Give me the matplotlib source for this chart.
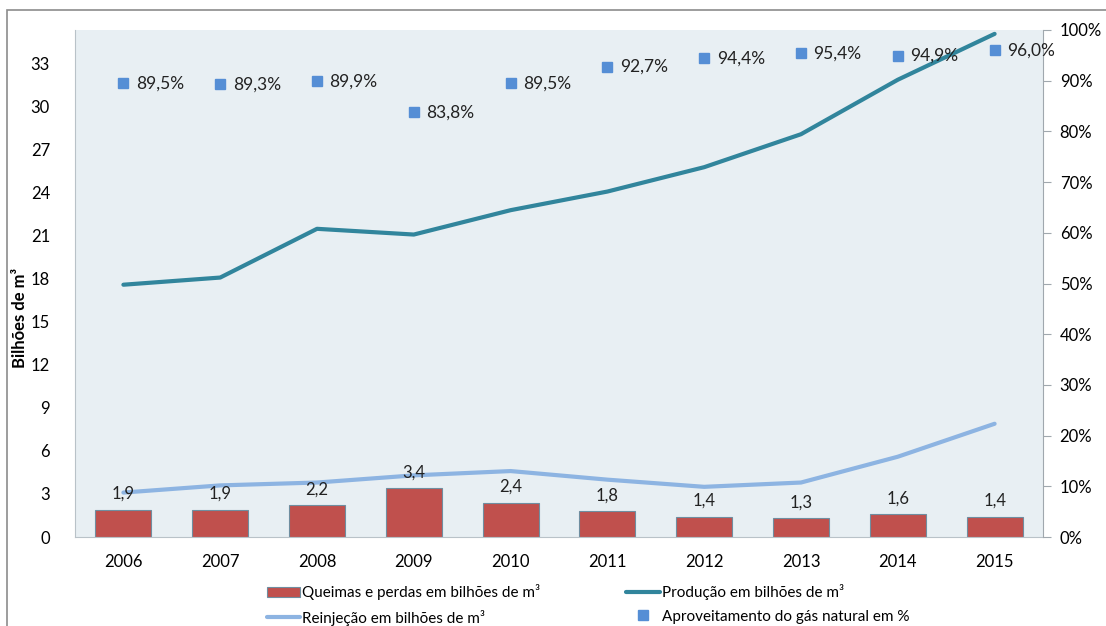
import matplotlib.pyplot as plt
from matplotlib.patches import Rectangle
from matplotlib.ticker import FuncFormatter

plt.rcParams["font.family"] = ["Lato", "DejaVu Sans"]

years = ["2006", "2007", "2008", "2009", "2010", "2011", "2012", "2013", "2014", "2015"]
queimas = [1.9, 1.9, 2.2, 3.4, 2.4, 1.8, 1.4, 1.3, 1.6, 1.4]
producao = [17.6, 18.1, 21.5, 21.1, 22.8, 24.1, 25.8, 28.1, 31.9, 35.1]
reinjecao = [3.1, 3.6, 3.8, 4.3, 4.6, 4.0, 3.5, 3.8, 5.6, 7.9]
aproveitamento = [89.5, 89.3, 89.9, 83.8, 89.5, 92.7, 94.4, 95.4, 94.9, 96.0]

fig = plt.figure(figsize=(11.06, 6.26), dpi=100)
ax = fig.add_axes([75 / 1106, 89 / 626, 968 / 1106, 507 / 626])
ax2 = ax.twinx()

# moldura externa do grafico
fig.patches.append(Rectangle((7 / 1106, -0.1), 1.2, 1.1 - 10 / 626, transform=fig.transFigure,
                             fill=False, edgecolor="#8c8c8c", linewidth=1.2))

x = list(range(len(years)))
ax.set_facecolor("#e8eff3")
bars = ax.bar(x, queimas, width=0.58, color="#c0504d", edgecolor="#6f8ea0", linewidth=0.8,
              label="Queimas e perdas em bilhões de m³", zorder=2)
for xi, v in zip(x, queimas):
    ax.text(xi, v + 0.55, f"{v:.1f}".replace(".", ","), ha="center", va="bottom", fontsize=12, color="#222222", zorder=5)
l_prod, = ax.plot(x, producao, color="#31859c", linewidth=3.0, solid_capstyle="round",
                  label="Produção em bilhões de m³", zorder=3)
l_rein, = ax.plot(x, reinjecao, color="#8db4e2", linewidth=3.0, solid_capstyle="round",
                  label="Reinjeção em bilhões de m³", zorder=3)
ax.set_xlim(-0.5, len(years) - 0.5)
ax.set_ylim(0, 35.37)
ax.set_yticks(range(0, 34, 3))
ax.set_xticks(x)
ax.set_xticklabels(years)
ax.tick_params(axis="y", length=0, pad=18, labelsize=12)
ax.tick_params(axis="x", length=0, pad=12, labelsize=12)
ax.set_ylabel("Bilhões de m³", fontsize=12, fontweight="bold")
ax.yaxis.set_label_coords(-0.049, 0.432)
for s in ["top", "right"]:
    ax.spines[s].set_visible(False)
ax.spines["left"].set_color("#b9c2c8")
ax.spines["bottom"].set_color("#b9c2c8")

l_apr, = ax2.plot(x, aproveitamento, linestyle="none", marker="s", markersize=6.5, color="#558ed5",
                  label="Aproveitamento do gás natural em %", zorder=4)
for xi, v in zip(x, aproveitamento):
    ax2.text(xi + 0.13, v, f"{v:.1f}%".replace(".", ","), ha="left", va="center", fontsize=12.5, color="#222222")
ax2.set_ylim(0, 100)
ax2.set_yticks(range(0, 101, 10))
ax2.yaxis.set_major_formatter(FuncFormatter(lambda v, p: f"{v:.0f}%"))
ax2.tick_params(axis="y", length=6, color="#a0a8ae", pad=6, labelsize=12, direction="out")
for s in ["top", "left", "bottom"]:
    ax2.spines[s].set_visible(False)
ax2.spines["right"].set_color("#a0a8ae")

fig.legend([bars, l_rein, l_prod, l_apr],
           [bars.get_label(), l_rein.get_label(), l_prod.get_label(), l_apr.get_label()],
           ncol=2, loc="center", bbox_to_anchor=(588 / 1106, 1 - 605 / 626), frameon=False,
           fontsize=11, handlelength=2.2, handletextpad=0.15, columnspacing=5.6, labelspacing=0.6)

fig.savefig("out.png", dpi=100)
